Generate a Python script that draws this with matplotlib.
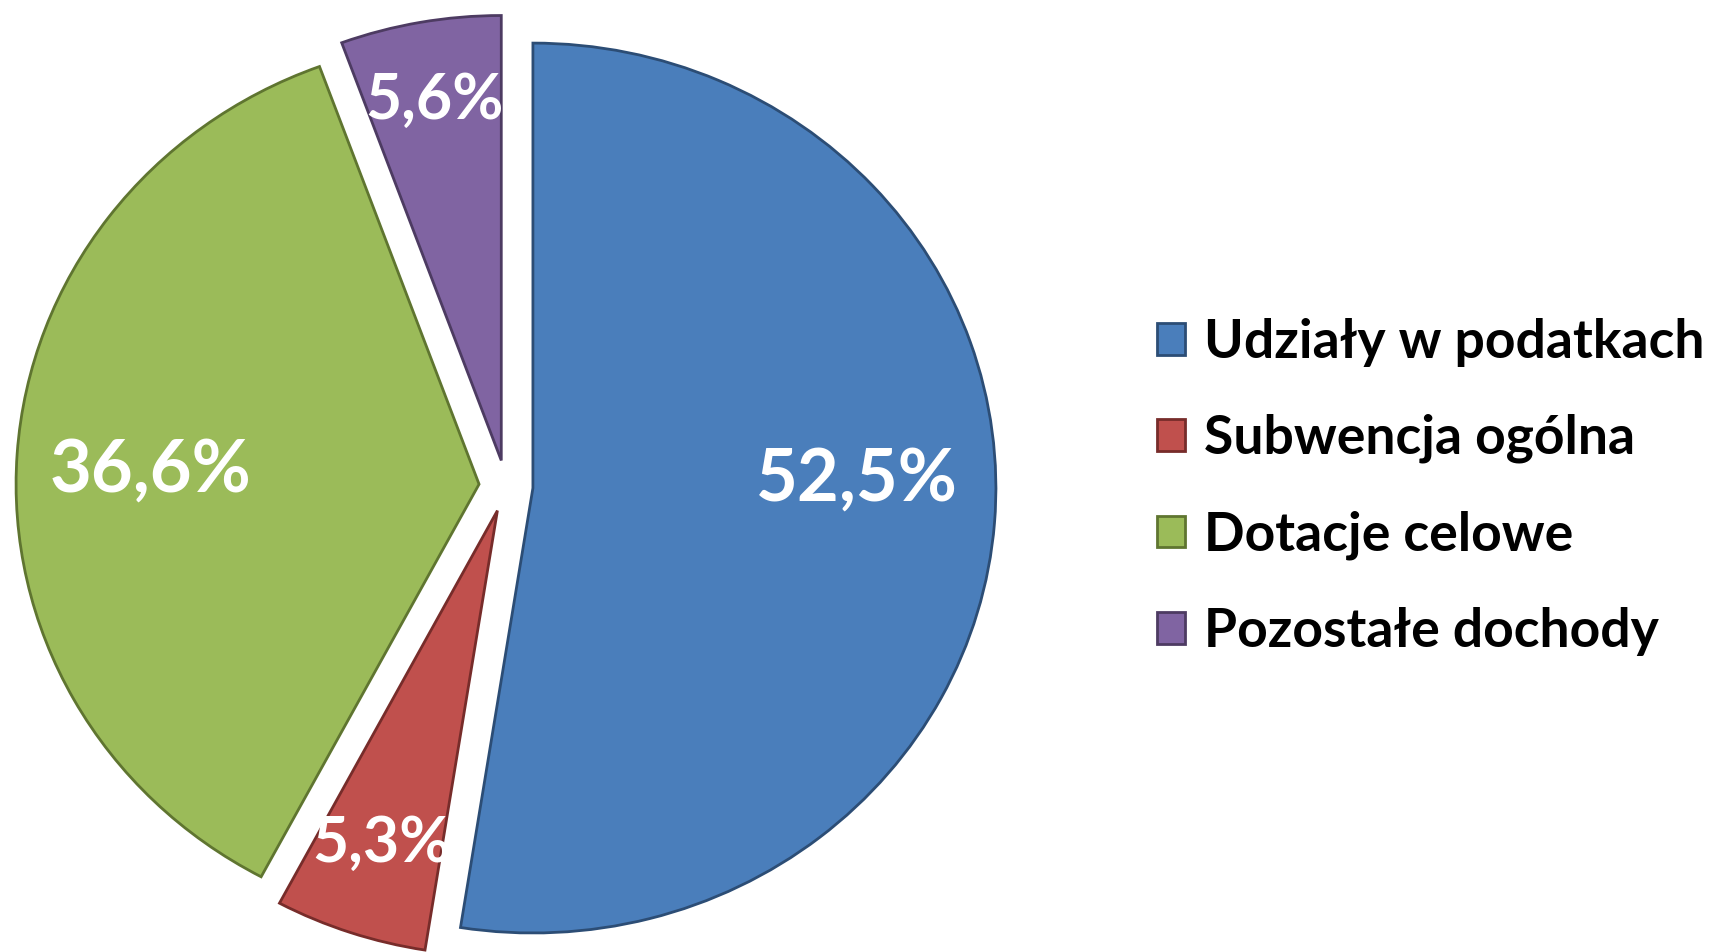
import matplotlib
matplotlib.use("Agg")
import matplotlib.pyplot as plt
import numpy as np

categories = ["Udziały w podatkach", "Subwencja ogólna", "Dotacje celowe", "Pozostałe dochody"]
values = [52.5, 5.3, 36.6, 5.6]
colors = ["#4A7EBB", "#C0504D", "#9BBB59", "#8064A2"]
edges = ["#2C4D75", "#772C2A", "#5F7530", "#4D3B62"]

W, H = 1709, 952
fig = plt.figure(figsize=(W / 100, H / 100), dpi=100)
ax = fig.add_axes([0, 0, 1, 1])

yscale = 0.961
cx, cy_px = 506, 486
center = (cx, (H - cy_px) / yscale)
radius = 463
gap = 27

wedges, texts, autotexts = ax.pie(
    values, colors=colors, startangle=90, counterclock=False,
    explode=[gap] * 4, radius=radius, center=center,
    autopct=lambda p: f"{p:.1f}".replace(".", ",") + "%",
    pctdistance=0.75,
    wedgeprops=dict(linewidth=2, edgecolor="none"),
    textprops=dict(color="white", fontweight="bold", family="Lato"),
)
for w, e in zip(wedges, edges):
    w.set_edgecolor(e)

ax.set_aspect("auto")
ax.set_xlim(0, W)
ax.set_ylim(0, H / yscale)
ax.axis("off")

dists = [0.70, 0.79, 0.71, 0.82]
angle_shift = [6.0, 0.0, 1.5, 0.0]
sizes = [52, 45, 52, 45]
for w, t, d, a, s in zip(wedges, autotexts, dists, angle_shift, sizes):
    ang = np.deg2rad((w.theta1 + w.theta2) / 2 + a)
    x0, y0 = w.center
    t.set_position((x0 + d * w.r * np.cos(ang), y0 + d * w.r * np.sin(ang)))
    t.set_fontsize(s)
    t.set_ha("center")
    t.set_va("center")

leg = fig.legend(
    wedges, categories, loc="center left",
    bbox_to_anchor=(1157 / W, 1 - 487 / H),
    frameon=False, prop=dict(family="Lato", weight="bold", size=38.5),
    handlelength=0.53, handleheight=0.53, handletextpad=0.35,
    labelspacing=0.88, borderpad=0, borderaxespad=0,
)

fig.savefig("out.png", dpi=100, facecolor="white")
